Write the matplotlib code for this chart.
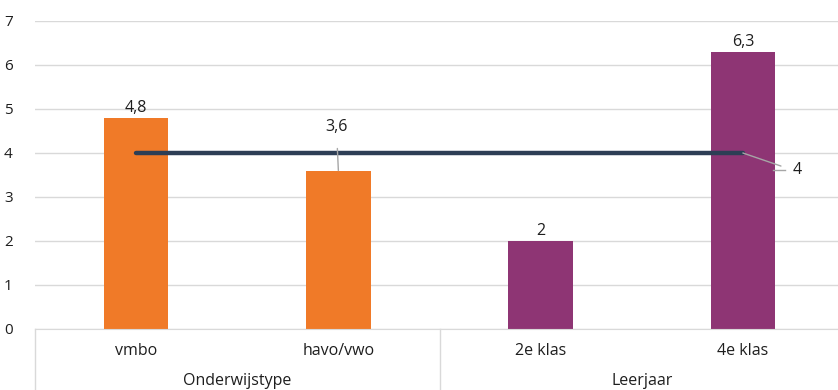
import matplotlib.pyplot as plt
from matplotlib.lines import Line2D

plt.rcParams['font.family'] = ['Open Sans', 'DejaVu Sans']

categories = ["vmbo", "havo/vwo", "2e klas", "4e klas"]
groups = ["Onderwijstype", "Leerjaar"]
values = [4.8, 3.6, 2.0, 6.3]
value_labels = ["4,8", "3,6", "2", "6,3"]
average = [4.0, 4.0]
average_label = "4"
bar_colors = ["#F07A28", "#F07A28", "#8E3574", "#8E3574"]
yticks = [0, 1, 2, 3, 4, 5, 6, 7]

FS = 11.5
TXT = "#1E1E1E"

fig = plt.figure(figsize=(8.38, 3.9), dpi=100)
ax = fig.add_axes([35 / 838, 1 - 329 / 390, 809 / 838, 308 / 390])

x = list(range(len(categories)))
ax.bar(x, values, width=0.32, color=bar_colors, zorder=2)
ax.plot([x[0], x[-1]], average, color="#2D3E55", lw=3.2, solid_capstyle="round", zorder=3)

ax.set_xlim(-0.5, len(categories) - 0.5)
ax.set_ylim(0, 7)
ax.set_yticks(yticks)
ax.set_yticklabels([str(t) for t in yticks], fontsize=FS - 0.5, color=TXT)
ax.yaxis.grid(True, color="#D9D9D9", lw=1)
ax.set_axisbelow(True)
ax.tick_params(axis="y", length=0, pad=16)
ax.tick_params(axis="x", length=0)
ax.set_xticks([])
for s in ["top", "right", "left"]:
    ax.spines[s].set_visible(False)
ax.spines["bottom"].set_color("#D9D9D9")

# value labels
for i, (v, lab) in enumerate(zip(values, value_labels)):
    if i == 1:
        ax.annotate(lab, xy=(i, v), xytext=(i - 0.01, v + 1.0), ha="center", va="center",
                    fontsize=FS, color=TXT,
                    arrowprops=dict(arrowstyle="-", color="#A6A6A6", lw=1,
                                    shrinkA=8, shrinkB=0))
    else:
        ax.text(i, v + 0.05, lab, ha="center", va="bottom", fontsize=FS, color=TXT)

ax.annotate(average_label, xy=(x[-1], average[1]), xytext=(x[-1] + 0.27, average[1] - 0.39),
            ha="center", va="center", fontsize=FS, color=TXT,
            arrowprops=dict(arrowstyle="-", color="#A6A6A6", lw=1,
                            shrinkA=7, shrinkB=0, relpos=(0, 0.5)))
ax.plot([x[-1] + 0.15, x[-1] + 0.21], [average[1] - 0.39] * 2, color="#A6A6A6", lw=1, zorder=4)

# category labels and group labels below the axis
trans = ax.get_xaxis_transform()
for i, c in enumerate(categories):
    ax.text(i, -0.07, c, transform=trans, ha="center", va="center", fontsize=FS, color=TXT)
for g, gname in enumerate(groups):
    ax.text(2 * g + 0.5, -0.17, gname, transform=trans, ha="center", va="center",
            fontsize=FS, color=TXT)
for xs in [-0.5, 1.5, 3.5]:
    ax.add_line(Line2D([xs, xs], [0, -0.21], transform=trans, color="#D9D9D9",
                       lw=1, clip_on=False))

fig.savefig("out.png", dpi=100)
